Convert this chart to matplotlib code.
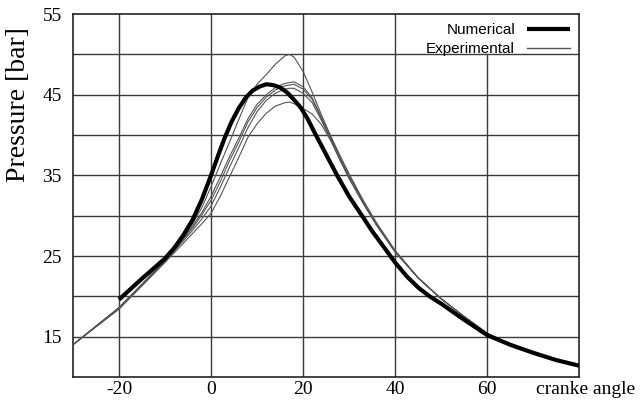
import matplotlib
matplotlib.use("Agg")
import matplotlib.pyplot as plt

plt.rcParams["axes.unicode_minus"] = False

# numerical (thick) curve
num_angle = [-20, -15, -10, -8, -6, -4, -2, 0, 1.5, 3, 4.5, 6, 7.5, 9, 10.5, 12,
             13.5, 15, 16.5, 18, 19.5, 21, 22.6, 25, 27.4, 30, 32.8, 35, 40,
             42.5, 45, 47.5, 50, 55, 60, 65, 70, 75, 80]
num_p = [19.6, 22.2, 24.7, 26.0, 27.6, 29.5, 32.0, 35.0, 37.4, 39.7, 41.7, 43.3,
         44.6, 45.5, 46.0, 46.3, 46.2, 45.9, 45.3, 44.4, 43.4, 42.0, 40.2, 37.6,
         35.0, 32.4, 30.0, 28.1, 24.2, 22.5, 21.1, 20.0, 19.1, 17.1, 15.2, 14.0,
         13.0, 12.1, 11.4]

# experimental runs (thin curves)
exp_angle = [-30, -25, -20, -15, -10, -8, -6, -4, -2, 0, 2, 4, 6, 8, 10, 12, 14,
             16, 17, 18, 20, 22, 24, 26, 28, 30, 33, 36, 40, 45, 50, 55, 60, 65,
             70, 75, 80]
exp_a = [14.0, 16.3, 18.6, 21.5, 24.5, 25.9, 27.4, 29.0, 31.0, 33.6, 36.4, 39.1,
         41.9, 44.6, 46.3, 47.5, 48.8, 49.8, 50.0, 49.7, 47.9, 45.3, 42.5, 39.9,
         37.5, 35.2, 32.0, 29.1, 25.7, 22.3, 19.7, 17.5, 15.4, 14.0, 12.9, 12.1,
         11.4]
exp_b = [14.0, 16.3, 18.6, 21.5, 24.4, 25.8, 27.2, 28.7, 30.4, 32.4, 34.8, 37.3,
         39.6, 42.0, 43.8, 45.0, 45.9, 46.4, 46.5, 46.6, 46.0, 44.6, 42.2, 39.8,
         37.3, 35.0, 31.8, 28.9, 25.6, 22.3, 19.7, 17.5, 15.4, 14.0, 12.9, 12.1,
         11.4]
exp_c = [14.0, 16.3, 18.6, 21.5, 24.4, 25.7, 27.1, 28.5, 30.1, 31.9, 34.2, 36.8,
         39.1, 41.6, 43.4, 44.7, 45.6, 46.1, 46.2, 46.3, 45.7, 44.4, 42.0, 39.6,
         37.1, 34.8, 31.7, 28.9, 25.6, 22.3, 19.7, 17.5, 15.4, 14.0, 12.9, 12.1,
         11.4]
exp_d = [14.0, 16.3, 18.5, 21.4, 24.3, 25.6, 26.9, 28.2, 29.6, 31.2, 33.5, 36.0,
         38.4, 40.9, 42.9, 44.3, 45.2, 45.7, 45.8, 45.8, 45.2, 44.0, 41.8, 39.4,
         36.9, 34.6, 31.6, 28.8, 25.5, 22.3, 19.7, 17.5, 15.4, 14.0, 12.9, 12.1,
         11.4]
exp_e = [14.0, 16.2, 18.4, 21.3, 24.2, 25.4, 26.6, 27.8, 29.0, 30.3, 32.4, 34.8,
         37.2, 39.7, 41.4, 42.7, 43.6, 44.0, 44.1, 43.9, 43.3, 42.6, 41.3, 39.3,
         37.0, 34.7, 31.6, 28.8, 25.5, 22.3, 19.7, 17.5, 15.4, 14.0, 12.9, 12.1,
         11.4]
exp_runs = [exp_a, exp_b, exp_c, exp_d, exp_e]

xtick_vals = [-20, 0, 20, 40, 60]
ytick_vals = [15, 25, 35, 45, 55]

serif = "Liberation Serif"
sans = "Liberation Sans"

fig = plt.figure(figsize=(6.4, 4.03), dpi=100)
ax = fig.add_axes([0.114, 0.0645, 0.791, 0.9005])

ax.set_xlim(-30, 80)
ax.set_ylim(10, 55)

# grid: every 5 bar horizontally, every 20 deg vertically
for yv in range(15, 55, 5):
    ax.axhline(yv, color="#3a3a3a", lw=1.0, zorder=1)
for xv in [-20, 0, 20, 40, 60]:
    top = (50 - 10) / 45 if xv == 60 else 1.0
    ax.axvline(xv, ymax=top, color="#3a3a3a", lw=1.0, zorder=1)

for i, run in enumerate(exp_runs):
    ax.plot(exp_angle, run, color="#555555", lw=0.8, zorder=3,
            label="Experimental" if i == 0 else None)
ax.plot(num_angle, num_p, color="black", lw=3.0, zorder=4,
        solid_capstyle="butt", label="Numerical")

for s in ax.spines.values():
    s.set_linewidth(1.2)
    s.set_color("#222222")

ax.set_xticks(xtick_vals)
ax.set_yticks(ytick_vals)
ax.tick_params(axis="y", length=0, labelsize=14, pad=8)
ax.tick_params(axis="x", length=0, labelsize=14, pad=3)
for lab in ax.get_xticklabels() + ax.get_yticklabels():
    lab.set_family(serif)

ax.text(0.915, -0.01, "cranke angle", transform=ax.transAxes, ha="left",
        va="top", fontsize=14, family=serif)
ax.set_ylabel("Pressure [bar]", fontsize=20, family=serif)
ax.yaxis.set_label_coords(-0.083, 0.75)

handles, labels = ax.get_legend_handles_labels()
leg = ax.legend(handles[::-1], labels[::-1], loc="upper right",
                frameon=False, markerfirst=False, handlelength=2.8,
                prop={"family": sans, "size": 11}, borderaxespad=0.2,
                labelspacing=0.3, handletextpad=0.8)
leg.get_lines()[1].set_linewidth(1.0)

fig.savefig("out.png", dpi=100)
